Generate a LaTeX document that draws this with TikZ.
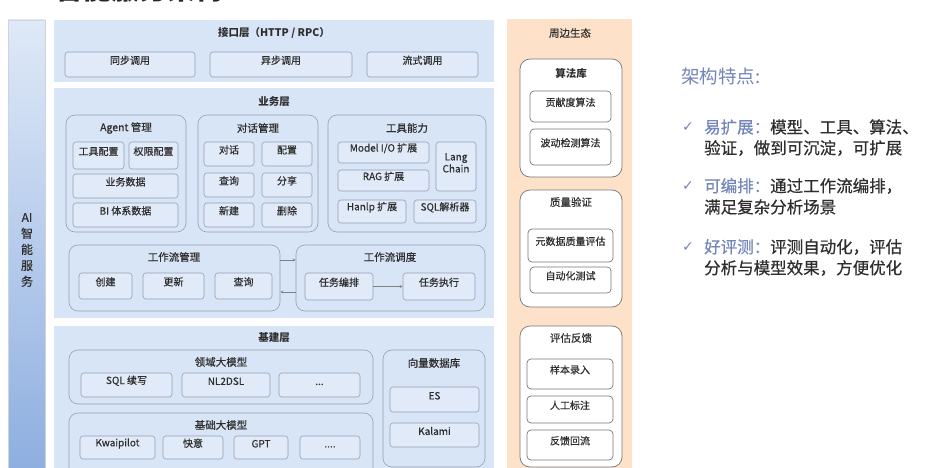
\documentclass[tikz,border=0pt]{standalone}
\usepackage{fontspec}
\setmainfont{Noto Sans CJK SC}
\newfontfamily\medf{Noto Sans CJK SC}[FakeBold=0.5]
\newfontfamily\symfont{DejaVu Sans}
\usetikzlibrary{fit,arrows.meta}
\definecolor{layerblue}{HTML}{D8E5F6}
\definecolor{leafblue}{HTML}{E1EAF8}
\definecolor{grayline}{HTML}{94A0B1}
\definecolor{txt}{HTML}{2E2E2E}
\definecolor{peach}{HTML}{FDE2C9}
\definecolor{wline}{HTML}{777777}
\definecolor{hl}{HTML}{7385BA}
\definecolor{colbot}{HTML}{8DAEE0}
\definecolor{coltop}{HTML}{DFE9F7}
\newcommand{\bx}[7]{\node[#1, fit={(#2,#3)(#4,#5)}, inner sep=0pt] (#6) {#7};}
\tikzset{
  layer/.style={fill=layerblue, draw=none},
  grp/.style={draw=grayline, fill=layerblue, rounded corners=9pt, line width=0.6pt},
  leaf/.style={draw=grayline, fill=leafblue, rounded corners=3pt, line width=0.6pt, text=txt, align=center, font=\medf\fontsize{10}{12}\selectfont},
  wgrp/.style={draw=wline, fill=white, rounded corners=10pt, line width=0.7pt},
  wleaf/.style={draw=wline, fill=white, rounded corners=4pt, line width=0.7pt, text=txt, font=\medf\fontsize{10}{12}\selectfont},
  ttl/.style={text=txt, font=\fontsize{10.5}{12}\selectfont\bfseries},
  gttl/.style={text=txt, font=\medf\fontsize{10.5}{12}\selectfont},
  arr/.style={draw=gray, line width=0.5pt, -{Stealth[length=3pt,width=3pt]}},
  rtxt/.style={anchor=west, text=txt, font=\medf\fontsize{16.5}{18}\selectfont, inner sep=0pt},
  chk/.style={text=hl, font=\symfont\fontsize{14}{16}\selectfont, inner sep=0pt}
}
\begin{document}
\begin{tikzpicture}[x=1pt,y=-1pt]
\path[use as bounding box] (0,0) rectangle (946,468);
\clip (0,0) rectangle (946,468);
\fill[white] (0,0) rectangle (946,468);
% clipped page title
\node[anchor=base west, inner sep=0pt, text=black!85, font=\fontsize{28}{30}\selectfont\bfseries] (pagetitle) at (55,0) {智能服务架构};
% left column
\node[fit={(8,20)(45,475)}, inner sep=0pt, top color=coltop, bottom color=colbot, draw=coltop!80!gray, line width=0.5pt] (aicol) {};
\node[text=txt, align=center, font=\medf\fontsize{12}{16}\selectfont] (aitxt) at (27,250) {AI\\智\\能\\服\\务};
% interface layer
\bx{layer}{54}{20}{494}{82}{iface}{}
\node[ttl] (ifacet) at (274,33) {接口层（HTTP / RPC）};
\bx{leaf}{65}{52}{195}{77}{sync}{同步调用}
\bx{leaf}{210}{52}{352}{77}{async}{异步调用}
\bx{leaf}{367}{52}{478}{77}{stream}{流式调用}
% business layer
\bx{layer}{54}{88}{494}{318}{biz}{}
\node[ttl] (bizt) at (274,102) {业务层};
\bx{grp}{66}{115}{186}{232}{agent}{}
\node[gttl] (agentt) at (126,128) {Agent 管理};
\bx{leaf}{73}{142}{124}{169}{toolcfg}{工具配置}
\bx{leaf}{129}{142}{178}{169}{permcfg}{权限配置}
\bx{leaf}{73}{174}{178}{198}{bizdata}{业务数据}
\bx{leaf}{73}{203}{178}{227}{bidata}{BI 体系数据}
\bx{grp}{198}{115}{318}{232}{chat}{}
\node[gttl] (chatt) at (258,128) {对话管理};
\bx{leaf}{204}{142}{254}{166}{c1}{对话}
\bx{leaf}{262}{142}{312}{166}{c2}{配置}
\bx{leaf}{204}{173}{254}{197}{c3}{查询}
\bx{leaf}{262}{173}{312}{197}{c4}{分享}
\bx{leaf}{204}{203}{254}{227}{c5}{新建}
\bx{leaf}{262}{203}{312}{227}{c6}{删除}
\bx{grp}{328}{115}{486}{232}{tool}{}
\node[gttl] (toolt) at (407,128) {工具能力};
\bx{leaf}{338}{142}{429}{163}{modelio}{Model I/O 扩展}
\bx{leaf}{338}{170}{429}{191}{rag}{RAG 扩展}
\bx{leaf}{436}{142}{476}{191}{lang}{Lang\\Chain}
\bx{leaf}{338}{200}{406}{223}{hanlp}{Hanlp 扩展}
\bx{leaf}{414}{200}{476}{223}{sqlp}{SQL解析器}
\bx{grp}{69}{245}{280}{311}{wfm}{}
\node[gttl] (wfmt) at (174,257) {工作流管理};
\bx{leaf}{79}{273}{132}{299}{w1}{创建}
\bx{leaf}{143}{273}{204}{299}{w2}{更新}
\bx{leaf}{215}{273}{272}{299}{w3}{查询}
\bx{grp}{296}{245}{485}{311}{wfs}{}
\node[gttl] (wfst) at (390,257) {工作流调度};
\bx{leaf}{305}{273}{373}{300}{s1}{任务编排}
\bx{leaf}{403}{273}{475}{300}{s2}{任务执行}
\coordinate (ya) at (0,260);
\coordinate (yb) at (0,292);
\draw[arr] (wfm.east |- ya) -- (wfs.west |- ya);
\draw[arr] (wfs.west |- yb) -- (wfm.east |- yb);
\draw[arr] (s1) -- (s2);
% base layer
\bx{layer}{54}{326}{494}{475}{base}{}
\node[ttl] (baset) at (274,338) {基建层};
\bx{grp}{69}{350}{373}{404}{dom}{}
\node[gttl] (domt) at (221,362) {领域大模型};
\bx{leaf}{81}{373}{172}{397}{d1}{SQL 续写}
\bx{leaf}{182}{373}{270}{397}{d2}{NL2DSL}
\bx{leaf}{279}{373}{360}{397}{d3}{...}
\bx{grp}{69}{413}{373}{478}{fnd}{}
\node[gttl] (fndt) at (221,425) {基础大模型};
\bx{leaf}{80}{436}{155}{459}{f1}{Kwaipilot}
\bx{leaf}{163}{436}{223}{459}{f2}{快意}
\bx{leaf}{234}{436}{288}{459}{f3}{GPT}
\bx{leaf}{300}{436}{360}{459}{f4}{....}
\bx{grp}{383}{350}{485}{467}{vdb}{}
\node[gttl] (vdbt) at (434,363) {向量数据库};
\bx{leaf}{390}{387}{479}{412}{es}{ES}
\bx{leaf}{390}{423}{479}{447}{kalami}{Kalami}
% ecosystem column
\node[fit={(507,19)(632,475)}, inner sep=0pt, fill=peach] (eco) {};
\node[gttl] (ecot) at (570,33) {周边生态};
\bx{wgrp}{520}{59}{622}{177}{alg}{}
\node[ttl] (algt) at (571,73) {算法库};
\bx{wleaf}{530}{91}{611}{122}{a1}{贡献度算法}
\bx{wleaf}{530}{129}{611}{165}{a2}{波动检测算法}
\bx{wgrp}{520}{190}{622}{307}{qv}{}
\node[gttl] (qvt) at (571,202) {质量验证};
\bx{wleaf}{528}{229}{613}{262}{q1}{元数据质量评估}
\bx{wleaf}{530}{267}{611}{293}{q2}{自动化测试}
\bx{wgrp}{520}{326}{622}{467}{fb}{}
\node[gttl] (fbt) at (571,338) {评估反馈};
\bx{wleaf}{527}{359}{613}{389}{e1}{样本录入}
\bx{wleaf}{527}{396}{613}{423}{e2}{人工标注}
\bx{wleaf}{527}{430}{613}{460}{e3}{反馈回流}
% features text
\node[anchor=west, inner sep=0pt, text=hl, font=\fontsize{18.5}{20}\selectfont] (feat) at (681,76) {架构特点:};
\node[chk] (k1) at (688,127) {✓};
\node[chk] (k2) at (688,186) {✓};
\node[chk] (k3) at (688,247) {✓};
\node[rtxt] (l1) at (704,127) {{\color{hl}易扩展：}模型、工具、算法、};
\node[rtxt] (l2) at (704,148) {验证，做到可沉淀，可扩展};
\node[rtxt] (l3) at (704,186) {{\color{hl}可编排：}通过工作流编排，};
\node[rtxt] (l4) at (704,207) {满足复杂分析场景};
\node[rtxt] (l5) at (704,247) {{\color{hl}好评测：}评测自动化，评估};
\node[rtxt] (l6) at (704,268) {分析与模型效果，方便优化};
\end{tikzpicture}
\end{document}
